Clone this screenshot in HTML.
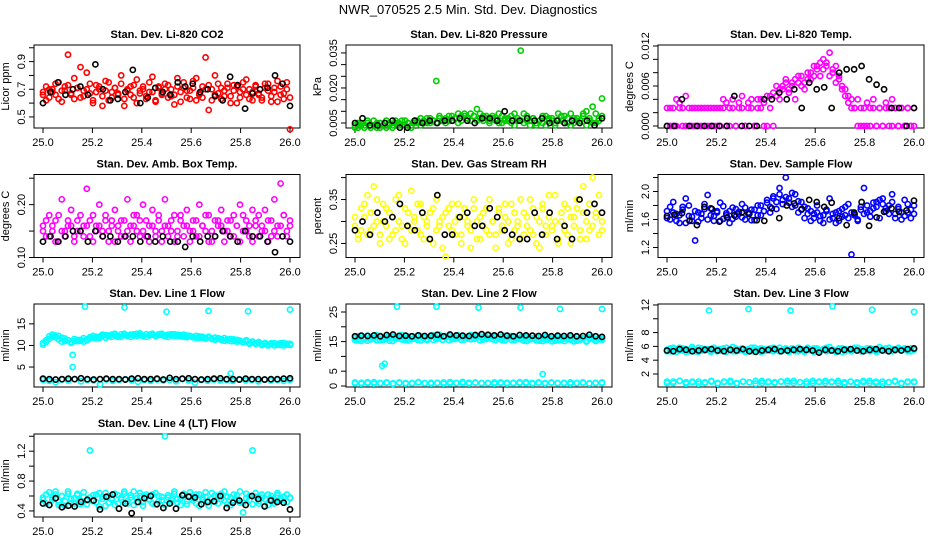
<!DOCTYPE html>
<html><head><meta charset="utf-8"><style>
html,body{margin:0;padding:0;background:#fff;}
svg{display:block;font-family:"Liberation Sans",sans-serif;}
</style></head><body>
<svg id="chart" width="936" height="540" viewBox="0 0 936 540" xmlns="http://www.w3.org/2000/svg">
<rect x="0" y="0" width="936" height="540" fill="#fff"/>
<text x="468" y="14" text-anchor="middle" font-size="13">NWR_070525  2.5 Min. Std. Dev. Diagnostics</text>
</svg>
<script>
const xTicks=[25.0,25.2,25.4,25.6,25.8,26.0];
const xTickLabels=["25.0","25.2","25.4","25.6","25.8","26.0"];

const co2Red=[0.66,0.62,0.70,0.68,0.74,0.63,0.69,0.72,0.95,0.66,0.78,0.71,0.64,0.69,0.82,0.67,0.60,0.73,0.70,0.65,0.76,0.62,0.68,0.71,0.66,0.74,0.58,0.69,0.72,0.64,0.77,0.67,0.70,0.63,0.75,0.68,0.61,0.72,0.66,0.70,0.73,0.65,0.59,0.78,0.68,0.71,0.64,0.69,0.76,0.62,0.67,0.72,0.93,0.55,0.70,0.66,0.74,0.63,0.69,0.71,0.65,0.73,0.60,0.68,0.75,0.66,0.70,0.62,0.72,0.67,0.64,0.74,0.69,0.61,0.71,0.76,0.66,0.63,0.70,0.41];
const co2Red2=[0.68,0.72,0.64,0.70,0.66,0.75,0.61,0.69,0.73,0.67,0.63,0.71,0.86,0.65,0.70,0.74,0.62,0.68,0.72,0.58,0.69,0.75,0.64,0.71,0.67,0.80,0.63,0.70,0.66,0.73,0.60,0.69,0.72,0.65,0.68,0.79,0.62,0.71,0.67,0.74,0.64,0.70,0.66,0.72,0.61,0.75,0.69,0.63,0.71,0.78,0.66,0.64,0.70,0.73,0.62,0.80,0.67,0.71,0.65,0.74,0.60,0.69,0.72,0.64,0.70,0.77,0.63,0.68,0.73,0.66,0.62,0.71,0.74,0.65,0.68,0.61,0.72,0.67,0.75,0.64];
const co2Black=[0.60,0.68,0.75,0.66,0.70,0.72,0.66,0.88,0.70,0.62,0.63,0.68,0.84,0.60,0.64,0.71,0.68,0.66,0.75,0.72,0.74,0.68,0.70,0.65,0.62,0.79,0.73,0.56,0.67,0.70,0.71,0.80,0.74,0.58];
const presGreen=[0.004,0.003,0.005,0.004,0.006,0.003,0.004,0.005,0.003,0.004,0.006,0.004,0.003,0.005,0.004,0.006,0.004,0.005,0.003,0.005,0.006,0.004,0.005,0.007,0.005,0.006,0.023,0.007,0.006,0.005,0.008,0.006,0.007,0.005,0.008,0.009,0.007,0.006,0.008,0.011,0.007,0.006,0.008,0.005,0.007,0.006,0.009,0.005,0.007,0.006,0.008,0.004,0.006,0.036,0.009,0.006,0.004,0.007,0.005,0.006,0.008,0.004,0.007,0.006,0.005,0.009,0.006,0.008,0.005,0.004,0.007,0.006,0.005,0.009,0.010,0.006,0.012,0.005,0.007,0.0155];
const presGreen2=[0.003,0.005,0.004,0.003,0.005,0.004,0.006,0.003,0.005,0.004,0.003,0.005,0.004,0.006,0.005,0.004,0.006,0.005,0.004,0.006,0.005,0.007,0.006,0.005,0.007,0.006,0.005,0.008,0.006,0.007,0.006,0.008,0.007,0.009,0.006,0.008,0.007,0.009,0.008,0.006,0.009,0.008,0.007,0.006,0.008,0.007,0.005,0.008,0.006,0.007,0.005,0.009,0.007,0.006,0.005,0.008,0.006,0.007,0.004,0.006,0.005,0.008,0.006,0.007,0.004,0.006,0.008,0.005,0.007,0.009,0.005,0.007,0.006,0.008,0.004,0.007,0.005,0.009,0.006,0.008];
const presBlack=[0.005,0.007,0.004,0.004,0.005,0.006,0.003,0.003,0.006,0.005,0.006,0.005,0.006,0.006,0.007,0.006,0.005,0.007,0.007,0.006,0.010,0.006,0.006,0.007,0.006,0.007,0.005,0.006,0.005,0.006,0.005,0.006,0.004,0.007];
const tempMag=[0.000,0.0027,0.000,0.004,0.0027,0.000,0.0045,0.0027,0.000,0.0027,0.000,0.0027,0.000,0.0027,0.000,0.0027,0.000,0.0027,0.004,0.000,0.0027,0.004,0.000,0.0027,0.0045,0.000,0.0027,0.004,0.000,0.0027,0.004,0.000,0.0045,0.0027,0.000,0.006,0.004,0.0055,0.007,0.005,0.0065,0.004,0.0075,0.006,0.0055,0.008,0.007,0.009,0.0085,0.0075,0.010,0.0095,0.011,0.0085,0.009,0.0075,0.006,0.0055,0.0045,0.004,0.0027,0.004,0.000,0.0027,0.000,0.0027,0.004,0.000,0.0027,0.000,0.0027,0.000,0.004,0.0027,0.000,0.0027,0.000,0.0027,0.000,0.000];
const tempMag2=[0.0027,0.000,0.0027,0.000,0.0035,0.0027,0.000,0.000,0.0027,0.000,0.0027,0.000,0.0027,0.000,0.0027,0.000,0.0027,0.000,0.0027,0.0035,0.000,0.0027,0.000,0.0035,0.0027,0.000,0.0035,0.0027,0.000,0.004,0.0027,0.0035,0.000,0.0045,0.005,0.0045,0.0055,0.006,0.0065,0.0055,0.006,0.007,0.0065,0.0075,0.0065,0.007,0.008,0.0075,0.009,0.0095,0.0085,0.009,0.0075,0.008,0.0065,0.007,0.0055,0.0045,0.0035,0.0027,0.0027,0.000,0.0027,0.000,0.0035,0.000,0.0027,0.000,0.0027,0.000,0.0035,0.0027,0.000,0.0027,0.000,0.0027,0.000,0.0027,0.000,0.0027];
const tempBlack=[0.000,0.000,0.004,0.000,0.000,0.000,0.000,0.000,0.000,0.0045,0.000,0.000,0.000,0.004,0.004,0.005,0.004,0.0055,0.0027,0.0065,0.0055,0.0058,0.0027,0.008,0.0085,0.0085,0.009,0.007,0.0062,0.0055,0.0027,0.0027,0.000,0.0027];
const ambMag=[0.16,0.14,0.18,0.15,0.17,0.13,0.21,0.15,0.16,0.19,0.14,0.17,0.15,0.16,0.23,0.14,0.18,0.16,0.20,0.15,0.17,0.13,0.16,0.19,0.15,0.17,0.14,0.21,0.16,0.18,0.15,0.17,0.20,0.14,0.16,0.19,0.15,0.17,0.13,0.21,0.16,0.15,0.18,0.14,0.17,0.16,0.19,0.15,0.17,0.14,0.20,0.16,0.15,0.18,0.13,0.17,0.16,0.19,0.15,0.17,0.14,0.18,0.16,0.20,0.15,0.17,0.14,0.19,0.16,0.18,0.15,0.19,0.17,0.14,0.21,0.16,0.24,0.18,0.15,0.17];
const ambMag2=[0.15,0.17,0.14,0.16,0.13,0.18,0.15,0.14,0.17,0.16,0.13,0.15,0.18,0.14,0.16,0.17,0.13,0.15,0.16,0.14,0.18,0.15,0.17,0.13,0.16,0.14,0.17,0.15,0.13,0.16,0.18,0.14,0.15,0.17,0.13,0.16,0.14,0.18,0.15,0.16,0.14,0.17,0.13,0.15,0.18,0.14,0.16,0.13,0.15,0.17,0.14,0.16,0.18,0.13,0.15,0.14,0.17,0.16,0.13,0.15,0.17,0.14,0.16,0.13,0.18,0.15,0.16,0.13,0.17,0.14,0.16,0.15,0.13,0.17,0.15,0.14,0.16,0.18,0.14,0.16];
const ambBlack=[0.13,0.14,0.13,0.14,0.15,0.15,0.13,0.15,0.14,0.14,0.13,0.14,0.14,0.13,0.14,0.13,0.14,0.13,0.13,0.12,0.14,0.13,0.14,0.14,0.15,0.14,0.13,0.15,0.14,0.14,0.13,0.11,0.14,0.13];
const rhYellow=[0.29,0.27,0.33,0.31,0.36,0.28,0.38,0.30,0.25,0.34,0.29,0.32,0.27,0.35,0.30,0.26,0.33,0.29,0.37,0.31,0.28,0.34,0.26,0.30,0.32,0.25,0.35,0.29,0.31,0.22,0.33,0.28,0.30,0.34,0.27,0.31,0.29,0.24,0.33,0.30,0.26,0.32,0.28,0.35,0.30,0.27,0.33,0.29,0.31,0.25,0.34,0.28,0.30,0.26,0.32,0.29,0.35,0.27,0.31,0.24,0.33,0.29,0.36,0.28,0.30,0.25,0.32,0.34,0.27,0.31,0.29,0.33,0.26,0.38,0.30,0.28,0.40,0.32,0.27,0.30];
const rhYellow2=[0.31,0.26,0.28,0.34,0.27,0.32,0.29,0.35,0.27,0.30,0.33,0.26,0.31,0.28,0.36,0.29,0.25,0.32,0.28,0.30,0.34,0.27,0.31,0.29,0.26,0.33,0.28,0.30,0.24,0.32,0.29,0.34,0.27,0.31,0.25,0.33,0.30,0.28,0.35,0.26,0.31,0.29,0.33,0.27,0.30,0.24,0.32,0.28,0.34,0.30,0.26,0.32,0.29,0.35,0.27,0.31,0.28,0.33,0.25,0.30,0.34,0.27,0.31,0.29,0.36,0.26,0.30,0.28,0.33,0.25,0.31,0.35,0.28,0.32,0.26,0.34,0.29,0.31,0.36,0.28];
const rhBlack=[0.28,0.30,0.27,0.32,0.30,0.31,0.34,0.29,0.28,0.32,0.26,0.36,0.27,0.27,0.31,0.32,0.29,0.29,0.33,0.31,0.28,0.27,0.26,0.26,0.32,0.27,0.32,0.26,0.29,0.26,0.35,0.32,0.34,0.32];
const flowBlue=[1.72,1.60,1.85,1.68,1.55,1.78,1.90,1.65,1.58,1.30,1.70,1.62,1.75,1.95,1.66,1.58,1.72,1.84,1.61,1.69,1.55,1.77,1.64,1.71,1.82,1.60,1.68,1.74,1.59,1.80,1.66,1.72,1.88,1.70,1.93,1.75,2.05,1.82,2.20,1.90,1.78,1.96,1.70,1.85,1.62,1.76,1.58,1.68,1.80,1.65,1.55,1.72,1.90,1.62,1.70,1.58,1.75,1.66,1.82,1.10,1.68,1.60,1.78,2.05,1.70,1.64,1.76,1.85,1.62,1.90,1.72,1.80,1.96,1.68,1.75,1.60,1.88,1.70,1.62,1.80];
const flowBlue2=[1.62,1.78,1.70,1.58,1.66,1.74,1.55,1.80,1.64,1.72,1.57,1.68,1.82,1.60,1.76,1.65,1.70,1.58,1.79,1.66,1.72,1.61,1.75,1.68,1.63,1.77,1.70,1.59,1.74,1.66,1.80,1.72,1.84,1.78,1.90,1.85,1.96,1.88,1.92,1.84,1.98,1.80,1.86,1.74,1.78,1.68,1.72,1.62,1.70,1.58,1.66,1.74,1.60,1.68,1.55,1.72,1.64,1.78,1.62,1.70,1.66,1.58,1.74,1.68,1.80,1.72,1.84,1.78,1.88,1.82,1.76,1.68,1.85,1.62,1.78,1.70,1.65,1.82,1.74,1.68];
const flowBlack=[1.65,1.67,1.69,1.58,1.52,1.78,1.75,1.57,1.63,1.66,1.70,1.68,1.59,1.58,1.76,1.62,1.80,1.83,1.75,1.88,1.85,1.78,1.84,1.62,1.52,1.70,1.85,1.51,1.63,1.71,1.76,1.71,1.73,1.87];
const l1Main=[10.2,10.8,11.5,12.0,12.3,12.2,11.8,11.0,11.2,10.8,11.0,11.3,11.1,10.9,11.4,11.6,11.8,12.0,11.7,12.2,12.4,12.1,12.5,12.3,12.0,12.6,12.4,12.2,12.5,12.3,12.7,12.4,12.1,12.6,12.3,12.5,12.2,12.6,12.4,12.1,12.5,12.3,12.6,12.2,12.4,12.0,12.3,12.1,11.9,12.2,11.8,12.0,11.7,11.9,11.5,11.8,11.6,11.3,11.7,11.2,11.5,11.0,11.3,11.1,10.8,11.2,10.6,10.9,10.5,10.8,10.3,10.6,10.2,10.5,10.0,10.4,10.1,10.6,10.2,10.4];
const l1Main2=[10.6,11.2,12.1,12.5,11.9,11.4,10.9,11.6,11.2,10.6,11.5,11.0,11.3,11.7,11.2,11.9,12.2,11.6,12.0,12.5,11.8,12.3,12.0,12.7,12.2,12.0,12.7,12.3,12.0,12.6,12.2,12.8,12.3,12.0,12.5,12.7,12.2,12.4,12.7,12.3,12.0,12.6,12.2,12.5,12.1,12.5,11.9,12.2,12.0,11.7,12.1,11.8,11.6,12.0,11.6,11.3,11.7,11.5,11.1,11.4,11.0,11.4,10.9,11.0,10.7,10.9,10.4,10.7,10.4,10.6,10.1,10.4,10.0,10.3,10.5,10.2,10.5,10.0,10.4,10.1];
const l1Low=[2.0,1.8,1.5,2.1,1.9,2.2,1.7,2.0,1.9,1.0,2.1,1.8,2.0,2.2,1.9,1.6,2.0,1.8,2.1,1.9,2.0,1.7,2.2,1.9,1.4,2.0,1.8,2.1,1.9,2.0,1.8,2.2,1.9,2.0,1.7,2.1,1.9,2.0,1.8,2.0];
const l1OutX=[25.17,25.33,25.5,25.67,25.83,26.0,25.12,25.12,25.76];
const l1OutY=[19.0,18.8,17.8,18.0,17.9,18.3,7.8,5.0,3.5];
const l1Black=[2.3,2.2,2.1,2.2,2.3,2.2,2.4,2.2,2.1,2.2,2.3,2.2,2.2,2.1,2.3,2.4,2.2,2.2,2.3,2.1,2.5,2.2,2.3,2.4,2.2,2.1,2.2,2.3,2.4,2.2,2.2,2.1,2.3,2.2,2.2,2.1,2.2,2.2,2.3,2.4];
const l2Main=[15.5,16.8,15.2,16.5,17.0,15.8,16.2,15.4,16.9,15.6,16.4,15.3,16.7,15.9,16.1,17.2,15.5,16.6,15.8,16.3,17.0,15.4,16.5,15.9,16.8,15.6,16.2,17.3,15.7,16.4,16.9,15.8,16.3,17.1,15.6,16.5,16.0,17.2,15.9,16.4,16.8,15.7,16.3,17.0,15.8,16.6,16.1,15.5,16.9,16.2,15.6,16.7,15.9,16.4,15.3,16.8,15.8,16.1,15.4,16.6,15.2,16.5,15.7,16.0,15.3,16.7,15.5,16.2,15.8,16.4,15.1,16.6,15.6,16.0,15.3,16.5,15.8,15.2,16.3,15.6];
const l2Main2=[16.2,15.4,16.9,15.8,15.3,16.6,16.0,17.1,15.5,16.3,15.9,16.8,15.2,16.5,17.0,15.7,16.2,15.4,16.8,16.0,15.6,16.9,16.2,15.5,16.4,17.1,15.8,16.2,15.6,16.9,15.5,16.6,15.9,16.2,16.8,15.7,16.5,15.8,16.1,16.9,15.4,16.6,15.9,16.2,16.8,15.5,16.0,16.7,15.4,16.3,16.9,15.5,16.1,15.8,16.6,15.2,16.4,15.9,16.7,15.3,16.1,15.6,16.4,15.1,16.2,15.4,16.5,15.2,16.0,15.6,16.3,15.3,15.8,16.2,15.0,15.9,16.4,15.5,15.8,16.1];
const l2Low=[1.2,0.8,1.0,1.3,0.9,1.1,0.7,1.2,1.0,0.9,1.3,1.0,0.8,1.1,1.2,0.9,1.0,1.4,0.8,1.1,1.0,0.9,1.2,1.0,0.8,1.1,1.3,0.9,1.0,1.2,0.8,1.1,1.0,0.9,1.2,1.0,1.1,0.8,1.0,1.2];
const l2Low2=[0.9,1.1,1.3,0.8,1.0,1.2,0.9,1.1,0.8,1.0,1.2,0.9,1.1,1.0,0.8,1.3,1.0,0.9,1.1,1.2,0.9,1.0,0.8,1.2,1.1,0.9,1.0,1.3,0.8,1.1,1.0,1.2,0.9,1.1,0.8,1.0,1.2,0.9,1.1,1.0];
const l2OutX=[25.17,25.33,25.5,25.67,25.83,26.0,25.12,25.11,25.76];
const l2OutY=[26.8,26.8,26.5,26.5,26.0,26.0,7.5,6.8,4.0];
const l2Black=[16.8,17.0,16.9,17.1,16.8,17.2,17.4,16.9,17.0,16.8,17.1,16.9,17.0,17.3,16.8,17.4,17.1,17.0,16.9,17.2,17.5,17.3,17.1,17.4,17.0,16.8,17.2,17.1,17.0,16.9,17.2,16.8,17.0,16.9,17.1,16.8,16.9,17.3,16.8,16.6];
const l3Main=[5.3,5.7,5.5,5.2,5.8,5.4,5.6,5.3,5.9,5.5,5.2,5.7,5.4,5.6,5.3,5.8,5.5,5.4,5.7,5.2,5.6,5.9,5.3,5.5,5.7,5.4,5.6,5.3,5.8,5.5,5.2,5.6,5.4,5.7,5.3,5.5,5.8,5.4,5.6,5.2,5.7,5.5,5.3,5.6,5.4,5.8,5.5,5.2,5.7,5.4,5.6,5.3,5.9,5.5,5.4,5.7,5.2,5.6,5.5,5.3,5.8,5.4,5.6,5.5,5.7,5.3,5.6,5.4,5.9,5.5,5.7,5.3,5.6,5.4,5.8,5.5,5.6,5.3,5.7,5.5];
const l3Main2=[5.5,5.3,5.8,5.6,5.4,5.7,5.2,5.5,5.6,5.3,5.8,5.4,5.6,5.5,5.2,5.7,5.3,5.6,5.4,5.8,5.5,5.3,5.7,5.4,5.6,5.2,5.5,5.8,5.4,5.6,5.7,5.3,5.5,5.4,5.8,5.6,5.3,5.5,5.7,5.4,5.6,5.3,5.8,5.5,5.2,5.6,5.4,5.7,5.5,5.3,5.6,5.8,5.4,5.5,5.2,5.6,5.7,5.3,5.5,5.4,5.6,5.8,5.3,5.5,5.4,5.7,5.6,5.2,5.5,5.6,5.4,5.8,5.3,5.5,5.6,5.4,5.7,5.5,5.3,5.6];
const l3Low=[0.9,0.7,1.0,0.8,0.9,0.6,0.8,1.0,0.7,0.9,0.8,0.6,0.9,0.8,1.0,0.7,0.9,0.8,0.9,0.7,1.0,0.8,0.9,0.7,0.8,1.0,0.9,0.7,0.8,0.9,0.6,0.8,1.0,0.7,0.9,0.8,0.9,0.6,0.8,0.9];
const l3Low2=[0.7,0.9,1.0,0.6,0.8,0.9,0.7,0.9,0.6,0.8,1.0,0.7,0.9,0.8,0.6,1.0,0.8,0.7,0.9,1.0,0.7,0.8,0.6,1.0,0.9,0.7,0.8,1.0,0.6,0.9,0.8,1.0,0.7,0.9,0.6,0.8,1.0,0.7,0.9,0.8];
const l3OutX=[25.17,25.33,25.5,25.67,25.83,26.0];
const l3OutY=[11.2,11.4,11.2,11.8,11.3,11.0];
const l3Black=[5.4,5.3,5.6,5.5,5.3,5.4,5.5,5.6,5.4,5.3,5.5,5.4,5.6,5.3,5.2,5.4,5.5,5.6,5.3,5.4,5.5,5.6,5.5,5.4,5.1,5.5,5.4,5.3,5.5,5.6,5.4,5.3,5.5,5.6,5.4,5.3,5.5,5.4,5.6,5.7];
const l4Cyan=[0.58,0.50,0.65,0.55,0.62,0.48,0.60,0.53,0.66,0.51,0.57,0.63,0.49,0.59,0.54,1.21,0.61,0.52,0.64,0.56,0.47,0.60,0.55,0.63,0.50,0.58,0.66,0.53,0.61,0.48,0.57,0.64,0.52,0.59,0.55,0.62,0.49,0.60,0.54,1.40,0.58,0.51,0.63,0.56,0.48,0.61,0.53,0.65,0.57,0.50,0.62,0.55,0.59,0.47,0.64,0.52,0.60,0.56,0.66,0.49,0.58,0.54,0.61,0.51,0.38,0.63,0.55,1.21,0.59,0.50,0.62,0.56,0.48,0.60,0.53,0.64,0.57,0.51,0.62,0.58];
const l4Cyan2=[0.55,0.62,0.48,0.58,0.66,0.52,0.60,0.47,0.63,0.56,0.50,0.61,0.54,0.65,0.49,0.58,0.53,0.62,0.46,0.59,0.64,0.51,0.57,0.48,0.61,0.55,0.63,0.50,0.58,0.66,0.52,0.60,0.47,0.62,0.56,0.50,0.64,0.53,0.59,0.48,0.61,0.55,0.66,0.51,0.57,0.63,0.49,0.60,0.54,0.62,0.47,0.58,0.65,0.52,0.56,0.61,0.50,0.63,0.54,0.59,0.48,0.62,0.55,0.66,0.51,0.57,0.60,0.49,0.64,0.53,0.58,0.47,0.62,0.56,0.50,0.61,0.54,0.59,0.52,0.57];
const l4Black=[0.50,0.48,0.57,0.45,0.47,0.46,0.52,0.55,0.54,0.42,0.59,0.62,0.43,0.50,0.37,0.52,0.57,0.60,0.49,0.44,0.50,0.43,0.61,0.59,0.58,0.49,0.52,0.53,0.60,0.44,0.51,0.54,0.48,0.60,0.56,0.46,0.54,0.52,0.51,0.42];

const NS="http://www.w3.org/2000/svg";
const svg=document.getElementById('chart');
function mk(tag,attrs,parent){const e=document.createElementNS(NS,tag);for(const k in attrs)e.setAttribute(k,attrs[k]);(parent||svg).appendChild(e);return e;}
const colLeft=[34,346,658], rowTop=[45,174.5,304,434], W=266, H=83;

function panel(name,col,row,title,ylab,ymin,ymax,yTicks,yLabels,series){
  const L=colLeft[col], T=rowTop[row], B=T+H;
  const g=mk('g',{});
  
  
  const xs=v=>L+9+(v-25)*247;
  const ys=v=>B-(v-ymin)/(ymax-ymin)*H;
  const t=mk('text',{x:L+W/2,y:T-7,'text-anchor':'middle','font-size':11,'font-weight':'bold'},g);
  t.textContent=title;
  
  
  const fr=mk('rect',{x:L,y:T,width:W,height:H,fill:'none',stroke:'#000','stroke-width':1},g);
  
  
  xTicks.forEach((v,i)=>{
    const x=xs(v);
    const tk=mk('line',{x1:x,y1:B,x2:x,y2:B+5,stroke:'#000'},g);
    
    
    const tl=mk('text',{x:x,y:B+18,'text-anchor':'middle','font-size':11},g);
    tl.textContent=xTickLabels[i];
    
    
  });
  yTicks.forEach(v=>{
    const y=ys(v);
    const tk=mk('line',{x1:L-5,y1:y,x2:L,y2:y,stroke:'#000'},g);
    
    
  });
  yLabels.forEach(s=>{
    const y=ys(Number(s));
    const tl=mk('text',{x:L-9,y:y,'text-anchor':'middle','font-size':11,transform:`rotate(-90 ${L-9} ${y})`},g);
    tl.textContent=String(s);
    
    
  });
  const yt=mk('text',{x:L-25,y:T+H/2,'text-anchor':'middle','font-size':11,transform:`rotate(-90 ${L-25} ${T+H/2})`},g);
  yt.textContent=ylab;
  
  
  series.forEach(s=>{
    const sg=mk('g',{fill:'none',stroke:s.color,'stroke-width':1.6},g);
    
    
    const n=s.vals.length;
    s.vals.forEach((v,i)=>{
      const xv=s.xv?s.xv[i]:25+i/(n-1);
      const c=mk('circle',{cx:xs(xv),cy:ys(v),r:2.6},sg);
      
      
    });
  });
}
panel('co2',0,0,'Stan. Dev. Li-820 CO2','Licor ppm',0.42,1.02,[0.5,0.6,0.7,0.8,0.9,1.0],['0.5','0.7','0.9'],
  [{id:'red',vals:co2Red,color:'#ff0000'},{id:'red2',vals:co2Red2,color:'#ff0000'},{id:'black',vals:co2Black,color:'#000'}]);
panel('pressure',1,0,'Stan. Dev. Li-820 Pressure','kPa',0.00286,0.0384,[0.005,0.01,0.015,0.02,0.025,0.03,0.035],['0.005','0.020','0.035'],
  [{id:'green',vals:presGreen,color:'#00cc00'},{id:'green2',vals:presGreen2,color:'#00cc00'},{id:'black',vals:presBlack,color:'#000'}]);
panel('temp',2,0,'Stan. Dev. Li-820 Temp.','degrees C',-0.0003,0.01215,[0,0.002,0.004,0.006,0.008,0.010,0.012],['0.000','0.006','0.012'],
  [{id:'magenta',vals:tempMag,color:'#ff00ff'},{id:'magenta2',vals:tempMag2,color:'#ff00ff'},{id:'black',vals:tempBlack,color:'#000'}]);
panel('ambbox',0,1,'Stan. Dev. Amb. Box Temp.','degrees C',0.10,0.257,[0.10,0.15,0.20,0.25],['0.10','0.20'],
  [{id:'magenta',vals:ambMag,color:'#ff00ff'},{id:'magenta2',vals:ambMag2,color:'#ff00ff'},{id:'black',vals:ambBlack,color:'#000'}]);
panel('rh',1,1,'Stan. Dev. Gas Stream RH','percent',0.218,0.407,[0.25,0.30,0.35,0.40],['0.25','0.35'],
  [{id:'yellow',vals:rhYellow,color:'#ffff00'},{id:'yellow2',vals:rhYellow2,color:'#ffff00'},{id:'black',vals:rhBlack,color:'#000'}]);
panel('sampleflow',2,1,'Stan. Dev. Sample Flow','ml/min',1.057,2.243,[1.2,1.4,1.6,1.8,2.0,2.2],['1.2','1.6','2.0'],
  [{id:'blue',vals:flowBlue,color:'#0000ff'},{id:'blue2',vals:flowBlue2,color:'#0000ff'},{id:'black',vals:flowBlack,color:'#000'}]);
panel('line1',0,2,'Stan. Dev. Line 1 Flow','ml/min',0.38,19.6,[5,10,15],['5','10','15'],
  [{id:'cyan',vals:l1Main,color:'#00ffff'},{id:'cyan2',vals:l1Main2,color:'#00ffff'},{id:'cyan-low',vals:l1Low,color:'#00ffff'},{id:'cyan-outlier',vals:l1OutY,xv:l1OutX,color:'#00ffff'},{id:'black',vals:l1Black,color:'#000'}]);
panel('line2',1,2,'Stan. Dev. Line 2 Flow','ml/min',-0.34,27.7,[0,5,10,15,20,25],['0','5','15','25'],
  [{id:'cyan',vals:l2Main,color:'#00ffff'},{id:'cyan2',vals:l2Main2,color:'#00ffff'},{id:'cyan-low',vals:l2Low,color:'#00ffff'},{id:'cyan-low2',vals:l2Low2,color:'#00ffff'},{id:'cyan-outlier',vals:l2OutY,xv:l2OutX,color:'#00ffff'},{id:'black',vals:l2Black,color:'#000'}]);
panel('line3',2,2,'Stan. Dev. Line 3 Flow','ml/min',0.116,12.14,[2,4,6,8,10,12],['2','4','6','8','12'],
  [{id:'cyan',vals:l3Main,color:'#00ffff'},{id:'cyan2',vals:l3Main2,color:'#00ffff'},{id:'cyan-low',vals:l3Low,color:'#00ffff'},{id:'cyan-low2',vals:l3Low2,color:'#00ffff'},{id:'cyan-outlier',vals:l3OutY,xv:l3OutX,color:'#00ffff'},{id:'black',vals:l3Black,color:'#000'}]);
panel('line4',0,3,'Stan. Dev. Line 4 (LT) Flow','ml/min',0.319,1.43,[0.4,0.6,0.8,1.0,1.2,1.4],['0.4','0.8','1.2'],
  [{id:'cyan',vals:l4Cyan,color:'#00ffff'},{id:'cyan2',vals:l4Cyan2,color:'#00ffff'},{id:'black',vals:l4Black,color:'#000'}]);
</script>
</body></html>
